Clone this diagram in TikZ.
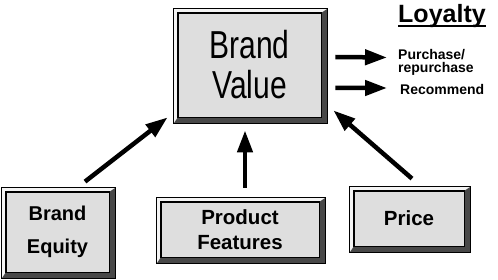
\documentclass[tikz,border=0pt]{standalone}
\usepackage{fontspec}
\setmainfont{Liberation Sans}
\newfontfamily\narrowfont[FakeStretch=0.77]{Liberation Sans}
\usepackage{tikz}
\usetikzlibrary{arrows.meta,positioning}
\definecolor{faceg}{HTML}{DEDEDE}
\definecolor{darkg}{HTML}{484848}
\definecolor{lightg}{HTML}{F4F4F4}

% raised frame round a face node: #1 name, #2 top/left width, #3 bottom/right width
\newcommand{\bevelframe}[3]{%
  \fill[darkg,even odd rule] ([shift={(-#2,#2)}]#1.north west) rectangle ([shift={(#3,-#3)}]#1.south east)
    (#1.north west) rectangle (#1.south east);
  \fill[lightg] ([shift={(-#2,-#3)}]#1.south west) -- ([shift={(-#2,#2)}]#1.north west)
    -- ([shift={(#3,#2)}]#1.north east) -- (#1.north east) -- (#1.north west) -- (#1.south west) -- cycle;
  \draw[line width=0.8pt] ([shift={(-#2,#2)}]#1.north west) rectangle ([shift={(#3,-#3)}]#1.south east);
  \draw[line width=0.8pt] (#1.north west) rectangle (#1.south east);
}

\begin{document}
\begin{tikzpicture}[x=1pt,y=1pt,
    boxface/.style={draw=black,fill=faceg,line width=0.8pt,inner sep=0pt,align=center},
    fat/.style={line width=4.5pt,-{Triangle[length=22pt,width=15pt]}}]
        \useasboundingbox (0,0) rectangle (498,279);
        % boxes
        \node[boxface,minimum width=143pt,minimum height=104pt,
              font=\narrowfont\fontsize{39}{40}\selectfont] (value) at (249.5,214) {Brand\\Value};
        \node[boxface,minimum width=103pt,minimum height=80pt,
              font=\bfseries\fontsize{20}{33}\selectfont] (equity) at (57.5,47) {Brand\\Equity};
        \node[boxface,minimum width=158pt,minimum height=55pt,
              font=\bfseries\fontsize{20.5}{25}\selectfont] (features) at (240,49.5) {Product\\Features};
        \node[boxface,minimum width=110pt,minimum height=55pt,
              font=\bfseries\fontsize{20.5}{25}\selectfont] (price) at (409,60.5) {Price};
        \bevelframe{value}{4}{6}
        \bevelframe{equity}{4}{6}
        \bevelframe{features}{4}{6}
        \bevelframe{price}{4}{6}
        % loyalty side
        \node[anchor=base west,inner sep=0pt,font=\bfseries\fontsize{25}{28}\selectfont] (loyalty) at (398,256) {Loyalty};
        \draw[line width=2pt] ([yshift=-3pt]loyalty.base west) -- ([yshift=-3pt]loyalty.base east);
        \node[anchor=north west,inner sep=0pt,align=left,
              font=\bfseries\fontsize{14}{12.5}\selectfont] (purchase) at (398,229.5) {Purchase/\\repurchase};
        \node[anchor=base west,inner sep=0pt,font=\bfseries\fontsize{14}{12}\selectfont] (recommend) at (400,185) {Recommend};
        \draw[fat] ([shift={(14,8)}]value.east) -- ([shift={(-11,5)}]purchase.west);
        \draw[fat] ([shift={(14,-23)}]value.east) -- ([shift={(-13,1)}]recommend.west);
        % drivers
        \draw[fat] ([shift={(27.5,10)}]equity.north) -- ([xshift=-10pt]value.south west);
        \draw[fat] ([shift={(5,14)}]features.north) -- ([shift={(-4.5,-13)}]value.south);
        \draw[fat] ([shift={(3,12)}]price.north) -- ([shift={(12,7)}]value.south east);
    \end{tikzpicture}
\end{document}
